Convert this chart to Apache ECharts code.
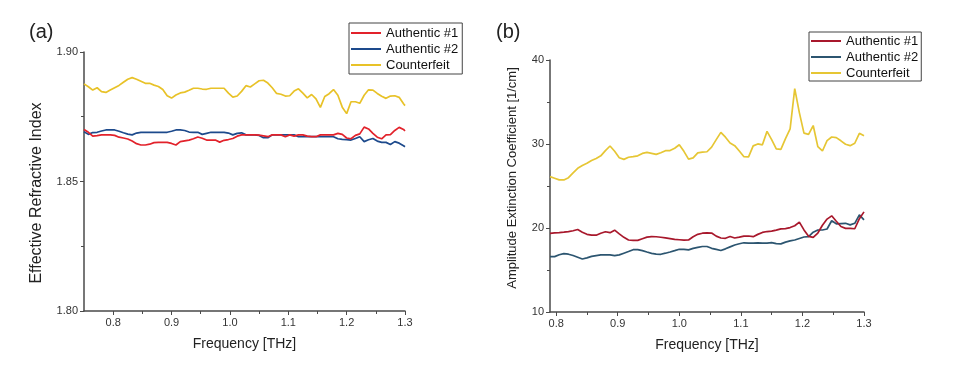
<!DOCTYPE html>
<html>
<head>
<meta charset="utf-8">
<script src="https://cdn.jsdelivr.net/npm/echarts@6/dist/echarts.min.js"></script>
<style>
html,body{margin:0;padding:0;background:#fff;}
#wrap{width:960px;height:366px;position:relative;}
#ca{position:absolute;left:0;top:0;width:480px;height:366px;}
#cb{position:absolute;left:480px;top:0;width:480px;height:366px;}
</style>
</head>
<body>
<div id="wrap"><div id="ca"></div><div id="cb"></div></div>
<script>
// ---------- Data: panel (a) Effective Refractive Index ----------
const freqA = [0.75,0.7575,0.765,0.7725,0.78,0.7875,0.795,0.8025,0.81,0.8175,
0.825,0.8325,0.84,0.8475,0.855,0.8625,0.87,0.8775,0.885,0.8925,
0.9,0.9075,0.915,0.9225,0.93,0.9375,0.945,0.9525,0.96,0.9675,
0.975,0.9825,0.99,0.9975,1.005,1.0125,1.02,1.0275,1.035,1.0425,
1.05,1.0575,1.065,1.0725,1.08,1.0875,1.095,1.1025,1.11,1.1175,
1.125,1.1325,1.14,1.1475,1.155,1.1625,1.17,1.1775,1.185,1.1925,
1.2,1.2075,1.215,1.2225,1.23,1.2375,1.245,1.2525,1.26,1.2675,
1.275,1.2825,1.29,1.2975,1.3];
const authentic1A = [1.8701,1.8690,1.8675,1.8677,1.8680,1.8680,1.8680,1.8678,1.8671,1.8668,
1.8664,1.8656,1.8646,1.8641,1.8641,1.8644,1.8650,1.8651,1.8651,1.8651,
1.8647,1.8641,1.8654,1.8657,1.8660,1.8665,1.8672,1.8667,1.8660,1.8660,
1.8660,1.8652,1.8659,1.8662,1.8666,1.8675,1.8680,1.8680,1.8680,1.8680,
1.8679,1.8676,1.8673,1.8680,1.8680,1.8680,1.8673,1.8680,1.8675,1.8680,
1.8680,1.8675,1.8673,1.8673,1.8680,1.8680,1.8680,1.8680,1.8686,1.8682,
1.8668,1.8665,1.8678,1.8684,1.8710,1.8703,1.8686,1.8671,1.8665,1.8680,
1.8681,1.8697,1.8709,1.8701,1.8695];
const authentic2A = [1.8692,1.8682,1.8689,1.8690,1.8695,1.8699,1.8699,1.8699,1.8694,1.8688,
1.8683,1.8680,1.8687,1.8690,1.8690,1.8690,1.8690,1.8690,1.8690,1.8690,
1.8694,1.8699,1.8699,1.8697,1.8691,1.8690,1.8690,1.8682,1.8686,1.8690,
1.8690,1.8690,1.8690,1.8687,1.8680,1.8686,1.8688,1.8680,1.8680,1.8680,
1.8678,1.8669,1.8669,1.8680,1.8680,1.8680,1.8680,1.8680,1.8680,1.8673,
1.8673,1.8673,1.8673,1.8673,1.8673,1.8673,1.8673,1.8673,1.8665,1.8663,
1.8662,1.8660,1.8666,1.8673,1.8654,1.8661,1.8666,1.8656,1.8651,1.8651,
1.8643,1.8654,1.8648,1.8638,1.8634];
const counterfeitA = [1.8877,1.8866,1.8853,1.8862,1.8847,1.8844,1.8853,1.8862,1.8871,1.8883,
1.8895,1.8901,1.8895,1.8887,1.8879,1.8879,1.8872,1.8867,1.8855,1.8831,
1.8822,1.8834,1.8842,1.8845,1.8852,1.8860,1.8860,1.8857,1.8856,1.8860,
1.8860,1.8860,1.8860,1.8841,1.8826,1.8830,1.8848,1.8870,1.8865,1.8877,
1.8889,1.8891,1.8880,1.8862,1.8840,1.8837,1.8830,1.8831,1.8849,1.8858,
1.8841,1.8823,1.8836,1.8819,1.8786,1.8828,1.8839,1.8855,1.8833,1.8787,
1.8762,1.8808,1.8808,1.8802,1.8833,1.8854,1.8853,1.8840,1.8829,1.8821,
1.8830,1.8831,1.8825,1.8800,1.8793];

// ---------- Data: panel (b) Amplitude Extinction Coefficient ----------
const freqB = [0.79,0.7975,0.805,0.8125,0.82,0.8275,0.835,0.8425,0.85,0.8575,
0.865,0.8725,0.88,0.8875,0.895,0.9025,0.91,0.9175,0.925,0.9325,
0.94,0.9475,0.955,0.9625,0.97,0.9775,0.985,0.9925,1.0,1.0075,
1.015,1.0225,1.03,1.0375,1.045,1.0525,1.06,1.0675,1.075,1.0825,
1.09,1.0975,1.105,1.1125,1.12,1.1275,1.135,1.1425,1.15,1.1575,
1.165,1.1725,1.18,1.1875,1.195,1.2025,1.21,1.2175,1.225,1.2325,
1.24,1.2475,1.255,1.2625,1.27,1.2775,1.285,1.2925,1.3];
const authentic1B = [19.37,19.41,19.45,19.50,19.56,19.67,19.82,19.50,19.25,19.15,
19.14,19.37,19.55,19.44,19.74,19.30,18.89,18.57,18.53,18.53,
18.72,18.91,18.97,18.96,18.90,18.82,18.74,18.65,18.60,18.55,
18.58,18.96,19.25,19.38,19.42,19.40,19.03,18.81,18.77,18.99,
18.81,18.91,19.04,19.05,18.97,19.24,19.47,19.58,19.62,19.75,
19.89,19.93,20.05,20.27,20.70,19.77,19.01,18.89,19.40,20.33,
21.06,21.45,20.81,20.18,19.96,19.95,19.91,21.11,21.92];
const authentic2B = [16.59,16.59,16.82,16.95,16.88,16.73,16.52,16.31,16.44,16.62,
16.72,16.79,16.79,16.79,16.71,16.80,17.00,17.20,17.42,17.43,
17.31,17.14,16.98,16.90,16.87,17.00,17.14,17.30,17.47,17.45,
17.40,17.57,17.69,17.80,17.80,17.58,17.45,17.32,17.52,17.75,
17.97,18.12,18.24,18.20,18.19,18.24,18.20,18.20,18.25,18.14,
18.11,18.32,18.46,18.57,18.75,18.93,18.97,19.50,19.76,19.76,
19.88,20.86,20.50,20.53,20.56,20.37,20.56,21.57,20.97];
const counterfeitB = [26.11,25.93,25.73,25.72,25.99,26.56,27.11,27.44,27.70,28.03,
28.28,28.59,29.21,29.76,29.13,28.36,28.17,28.42,28.49,28.59,
28.88,29.00,28.89,28.76,28.95,29.20,29.22,29.50,29.91,29.13,
28.20,28.35,28.95,29.04,29.08,29.63,30.52,31.38,30.81,30.12,
29.80,29.17,28.48,28.46,29.78,30.01,29.90,31.50,30.53,29.43,
29.37,30.63,31.79,36.60,33.74,31.30,31.15,32.20,29.68,29.17,
30.40,30.83,30.76,30.38,29.97,29.80,30.09,31.27,30.97];

const seriesNames = ['Authentic #1','Authentic #2','Counterfeit'];
const xMajorTicks = [0.8,0.9,1.0,1.1,1.2,1.3];
const xMinorTicks = [0.85,0.95,1.05,1.15,1.25];

const FONT = "'Liberation Sans', Arial, sans-serif";
const AX = '#4a4a4a';

function pairs(xs, ys){ return xs.map((x,i)=>[x, ys[i]]); }

function buildOption(cfg){
  return {
    animation:false,
    textStyle:{fontFamily:FONT},
    grid:cfg.grid,
    legend:{
      orient:'vertical', left:cfg.legend.left, top:cfg.legend.top,
      data:seriesNames,
      icon:'rect',
      borderColor:'#444', borderWidth:1, backgroundColor:'#fff',
      padding:cfg.legend.padding, itemGap:cfg.legend.gap,
      itemWidth:30, itemHeight:2,
      textStyle:{fontSize:13, color:'#111', fontFamily:FONT, lineHeight:14}
    },
    graphic:[
      {type:'text', left:cfg.tag.x, top:cfg.tag.y,
        style:{text:cfg.tag.text, font:'20px '+FONT, fill:'#222'}},
      {type:'text', x:cfg.ytitle.x, y:cfg.ytitle.y, rotation:Math.PI/2,
        style:{text:cfg.ytitle.text, font:cfg.ytitle.size+'px '+FONT, fill:'#222',
          align:'center', verticalAlign:'middle', textAlign:'center', textVerticalAlign:'middle'}}
    ],
    xAxis:[
      {type:'value', min:cfg.xmin, max:1.3,
        name:'Frequency [THz]', nameLocation:'middle', nameGap:26,
        nameTextStyle:{fontSize:14, color:'#222', fontFamily:FONT},
        axisLine:{show:true, lineStyle:{color:AX, width:1.5}},
        axisTick:{show:true, customValues:xMajorTicks, length:4, lineStyle:{color:AX, width:1}},
        axisLabel:{customValues:xMajorTicks, fontSize:11, color:'#333', margin:6,
          formatter:v=>v.toFixed(1)},
        splitLine:{show:false}},
      {type:'value', min:cfg.xmin, max:1.3, position:'bottom',
        axisLine:{show:false},
        axisTick:{show:true, customValues:xMinorTicks, length:3, lineStyle:{color:AX, width:1}},
        axisLabel:{show:false}, splitLine:{show:false}}
    ],
    yAxis:{type:'value', min:cfg.ymin, max:cfg.ymax, interval:cfg.yint,
      axisLine:{show:true, lineStyle:{color:AX, width:1.5}},
      axisTick:{show:true, length:4, lineStyle:{color:AX, width:1}},
      minorTick:{show:true, splitNumber:2, length:3, lineStyle:{color:AX, width:1}},
      axisLabel:{fontSize:11, color:'#333', margin:6, formatter:v=>v.toFixed(cfg.ydec)},
      splitLine:{show:false}, minorSplitLine:{show:false}},
    series:cfg.series.map((s,i)=>({
      name:seriesNames[i], type:'line', xAxisIndex:0, symbol:'none', showSymbol:false,
      data:pairs(cfg.freq, s.data), z:s.z,
      lineStyle:{color:s.color, width:1.7}, itemStyle:{color:s.color}
    }))
  };
}

const chartA = echarts.init(document.getElementById('ca'), null, {renderer:'canvas'});
chartA.setOption(buildOption({
  grid:{left:84, right:75, top:52, bottom:55},
  legend:{left:349, top:23, padding:[3,4,2,2], gap:2},
  tag:{x:29, y:22, text:'(a)'},
  ytitle:{x:37, y:193, size:16, text:'Effective Refractive Index'},
  xmin:0.75, ymin:1.80, ymax:1.90, yint:0.05, ydec:2, freq:freqA,
  series:[
    {data:authentic1A, color:'#e2222b', z:3},
    {data:authentic2A, color:'#1d4a8c', z:2},
    {data:counterfeitA, color:'#e8c228', z:1}
  ]
}));

const chartB = echarts.init(document.getElementById('cb'), null, {renderer:'canvas'});
chartB.setOption(buildOption({
  grid:{left:70, right:96, top:60, bottom:54},
  legend:{left:329, top:32, padding:[2,3,1,2], gap:2},
  tag:{x:16, y:22, text:'(b)'},
  ytitle:{x:32, y:178, size:13, text:'Amplitude Extinction Coefficient [1/cm]'},
  xmin:0.79, ymin:10, ymax:40, yint:10, ydec:0, freq:freqB,
  series:[
    {data:authentic1B, color:'#a8182c', z:3},
    {data:authentic2B, color:'#2c5570', z:2},
    {data:counterfeitB, color:'#e6c634', z:1}
  ]
}));
</script>
</body>
</html>
